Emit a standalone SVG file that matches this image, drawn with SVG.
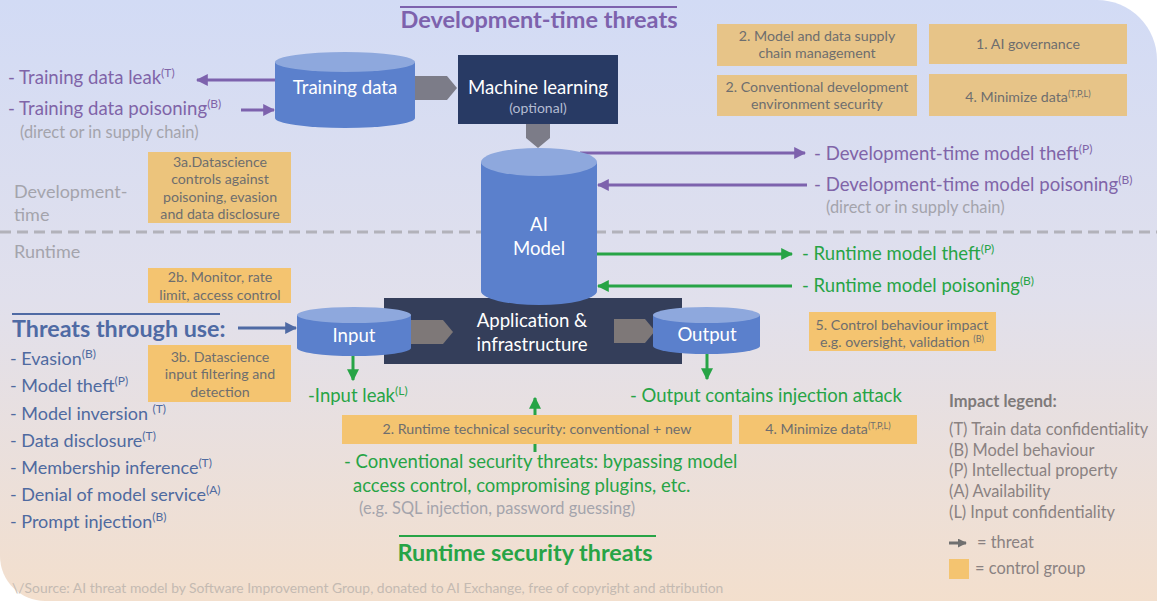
<svg xmlns="http://www.w3.org/2000/svg" width="1159" height="609" viewBox="0 0 1159 609">
<defs>
<linearGradient id="bg" x1="0" y1="0" x2="0" y2="1">
<stop offset="0" stop-color="#d2dbf5"/>
<stop offset="0.5" stop-color="#e1e0ec"/>
<stop offset="1" stop-color="#f3dfcd"/>
</linearGradient>
<marker id="mp" viewBox="0 0 10 10" refX="9" refY="5" markerWidth="4" markerHeight="4" orient="auto-start-reverse"><path d="M0,0 L10,5 L0,10 Z" fill="#7d62ad"/></marker>
<marker id="mg" viewBox="0 0 10 10" refX="9" refY="5" markerWidth="4" markerHeight="4" orient="auto-start-reverse"><path d="M0,0 L10,5 L0,10 Z" fill="#27a446"/></marker>
<marker id="mb" viewBox="0 0 10 10" refX="9" refY="5" markerWidth="4" markerHeight="4" orient="auto-start-reverse"><path d="M0,0 L10,5 L0,10 Z" fill="#4f6aa4"/></marker>
<marker id="mk" viewBox="0 0 10 10" refX="9" refY="5" markerWidth="3" markerHeight="3" orient="auto"><path d="M0,0 L10,5 L0,10 Z" fill="#707070"/></marker>
</defs>
<style>
text{font-family:Lato,"Open Sans","Liberation Sans",sans-serif}
.ctrl{fill:#f4c470}
.ctrlT{fill:#e7c488}
.ct{font-size:14.2px;fill:#6e6e6e;text-anchor:middle}
.pur{font-size:18.6px;fill:#8064a8}
.grn{font-size:18.5px;fill:#27a446}
.blu{font-size:18px;fill:#4f6aa0}
.gry{font-size:16.4px;fill:#a4a4ac}
.wh{fill:#ffffff;text-anchor:middle;font-size:18.6px}
.cylb{fill:#5b80cc}
.cylt{fill:#8ea8dd}
.garr{fill:#7c7c88}
.leg{font-size:16.4px;fill:#8a8282}
.lp{stroke:#7d62ad;stroke-width:3;fill:none}
.lg{stroke:#27a446;stroke-width:3;fill:none}
.lb{stroke:#4f6aa4;stroke-width:3;fill:none}
.sp{font-size:12px}
.sps{font-size:9px}
</style>
<path d="M0,0 H1097 A60,60 0 0 1 1157,60 V601 H45 A45,45 0 0 1 0,556 Z" fill="url(#bg)"/>
<line x1="0" y1="232" x2="1157" y2="232" stroke="#b2b2ba" stroke-width="3" stroke-dasharray="11,6"/>

<g id="titles">
<line x1="400" y1="7" x2="677" y2="7" stroke="#7d62ad" stroke-width="2"/>
<text x="539" y="28" text-anchor="middle" font-size="23.5" font-weight="bold" fill="#7d62ad">Development-time threats</text>
<line x1="399" y1="536" x2="656" y2="536" stroke="#27a446" stroke-width="2"/>
<text x="525" y="561" text-anchor="middle" font-size="23.4" font-weight="bold" fill="#27a446">Runtime security threats</text>
<text x="14" y="198" font-size="18" fill="#a4a4ac">Development-</text>
<text x="14" y="221" font-size="18" fill="#a4a4ac">time</text>
<text x="14" y="258" font-size="18" fill="#a4a4ac">Runtime</text>
<text x="12" y="593" font-size="13.9" fill="#c4bab2">\/Source: AI threat model by Software Improvement Group, donated to AI Exchange, free of copyright and attribution</text>
</g>

<g id="connectors">
<polygon class="garr" points="415,76 447,76 457,88 447,100 415,100"/>
<polygon class="garr" points="526,124 550,124 550,138 538,148 526,138"/>
<line class="lp" x1="275" y1="80" x2="197" y2="80" marker-end="url(#mp)"/>
<line class="lp" x1="241" y1="110" x2="274" y2="110" marker-end="url(#mp)"/>
<line class="lp" x1="580" y1="153" x2="805" y2="153" marker-end="url(#mp)"/>
<line class="lp" x1="807" y1="185" x2="598" y2="185" marker-end="url(#mp)"/>
<line class="lg" x1="597" y1="254" x2="792" y2="254" marker-end="url(#mg)"/>
<line class="lg" x1="792" y1="286" x2="598" y2="286" marker-end="url(#mg)"/>
<line class="lb" x1="238" y1="328" x2="296" y2="328" marker-end="url(#mb)"/>
<line class="lg" x1="353" y1="356" x2="353" y2="380" marker-end="url(#mg)"/>
<line class="lg" x1="707" y1="354" x2="707" y2="379" marker-end="url(#mg)"/>
<line class="lg" x1="535" y1="452" x2="535" y2="398" marker-end="url(#mg)"/>
</g>

<g id="training-data">
<path class="cylb" d="M275,62 V118 A70,10 0 0 0 415,118 V62 Z"/>
<ellipse class="cylt" cx="345" cy="62" rx="70" ry="10"/>
<text class="wh" x="345" y="94">Training data</text>
</g>

<g id="machine-learning">
<rect x="458" y="55" width="160" height="69" fill="#283a64"/>
<text class="wh" x="538" y="94">Machine learning</text>
<text x="538" y="113" text-anchor="middle" font-size="14" fill="#b4bcd2">(optional)</text>
</g>

<g id="application">
<rect x="384" y="298" width="298" height="66" fill="#343e5a"/>
<polygon fill="#7e7878" points="411,320 443,320 453,332 443,344 411,344"/>
<polygon fill="#7e7878" points="614,319 645,319 655,331 645,343 614,343"/>
<text class="wh" x="532" y="327">Application &amp;</text>
<text class="wh" x="532" y="351">infrastructure</text>
</g>

<g id="ai-model">
<path class="cylb" d="M481,162 V291 A58,14 0 0 0 597,291 V162 Z"/>
<ellipse class="cylt" cx="539" cy="162" rx="58" ry="14"/>
<text class="wh" x="539" y="231">AI</text>
<text class="wh" x="539" y="255">Model</text>
</g>

<g id="input">
<path class="cylb" d="M297,315 V348 A57,8 0 0 0 411,348 V315 Z"/>
<ellipse class="cylt" cx="354" cy="315" rx="57" ry="8"/>
<text class="wh" x="354" y="342">Input</text>
</g>

<g id="output">
<path class="cylb" d="M653,315 V346 A53.5,8 0 0 0 760,346 V315 Z"/>
<ellipse class="cylt" cx="706.5" cy="315" rx="53.5" ry="8"/>
<text class="wh" x="707" y="341">Output</text>
</g>

<g id="dev-threats">
<text class="pur" x="8" y="84">- Training data leak<tspan class="sp" dy="-7">(T)</tspan></text>
<text class="pur" x="8" y="115">- Training data poisoning<tspan class="sp" dy="-7">(B)</tspan></text>
<text class="gry" x="20" y="138">(direct or in supply chain)</text>
<text class="pur" x="814" y="160">- Development-time model theft<tspan class="sp" dy="-7">(P)</tspan></text>
<text class="pur" x="814" y="191">- Development-time model poisoning<tspan class="sp" dy="-7">(B)</tspan></text>
<text class="gry" x="826" y="213">(direct or in supply chain)</text>
</g>

<g id="runtime-threats">
<text class="grn" x="802" y="260">- Runtime model theft<tspan class="sp" dy="-7">(P)</tspan></text>
<text class="grn" x="802" y="292">- Runtime model poisoning<tspan class="sp" dy="-7">(B)</tspan></text>
<text class="grn" x="308" y="402">-Input leak<tspan class="sp" dy="-7">(L)</tspan></text>
<text class="grn" x="630" y="402">- Output contains injection attack</text>
<text class="grn" x="344" y="468">- Conventional security threats: bypassing model</text>
<text class="grn" x="353" y="492">access control, compromising plugins, etc.</text>
<text class="gry" x="359" y="514">(e.g. SQL injection, password guessing)</text>
</g>

<g id="threats-through-use">
<line x1="12" y1="314" x2="220" y2="314" stroke="#4f6aa4" stroke-width="2"/>
<text x="12" y="337" font-size="23.3" font-weight="bold" fill="#4f6aa4">Threats through use:</text>
<text class="blu" x="10" y="365">- Evasion<tspan class="sp" dy="-7">(B)</tspan></text>
<text class="blu" x="10" y="392">- Model theft<tspan class="sp" dy="-7">(P)</tspan></text>
<text class="blu" x="10" y="420">- Model inversion <tspan class="sp" dy="-7">(T)</tspan></text>
<text class="blu" x="10" y="447">- Data disclosure<tspan class="sp" dy="-7">(T)</tspan></text>
<text class="blu" x="10" y="474">- Membership inference<tspan class="sp" dy="-7">(T)</tspan></text>
<text class="blu" x="10" y="501">- Denial of model service<tspan class="sp" dy="-7">(A)</tspan></text>
<text class="blu" x="10" y="528">- Prompt injection<tspan class="sp" dy="-7">(B)</tspan></text>
</g>

<g id="ctrl-supply-chain">
<rect class="ctrlT" x="717" y="24" width="200" height="42"/>
<text class="ct" x="817" y="41">2. Model and data supply</text>
<text class="ct" x="817" y="58">chain management</text>
</g>
<g id="ctrl-governance">
<rect class="ctrlT" x="929" y="24" width="198" height="40"/>
<text class="ct" x="1028" y="49">1. AI governance</text>
</g>
<g id="ctrl-dev-env">
<rect class="ctrlT" x="717" y="75" width="200" height="41"/>
<text class="ct" x="817" y="92">2. Conventional development</text>
<text class="ct" x="817" y="109">environment security</text>
</g>
<g id="ctrl-minimize-dev">
<rect class="ctrlT" x="929" y="74" width="198" height="42"/>
<text class="ct" x="1028" y="102">4. Minimize data<tspan class="sps" dy="-5">(T,P,L)</tspan></text>
</g>
<g id="ctrl-3a">
<rect class="ctrl" x="148" y="152" width="143" height="71" style="fill:#ecc47c"/>
<text class="ct" x="220" y="167">3a.Datascience</text>
<text class="ct" x="220" y="184">controls against</text>
<text class="ct" x="220" y="202">poisoning, evasion</text>
<text class="ct" x="220" y="219">and data disclosure</text>
</g>
<g id="ctrl-2b">
<rect class="ctrl" x="148" y="268" width="143" height="35"/>
<text class="ct" x="220" y="282">2b. Monitor, rate</text>
<text class="ct" x="220" y="300">limit, access control</text>
</g>
<g id="ctrl-3b">
<rect class="ctrl" x="148" y="345" width="143" height="57"/>
<text class="ct" x="220" y="362">3b. Datascience</text>
<text class="ct" x="220" y="379">input filtering and</text>
<text class="ct" x="220" y="397">detection</text>
</g>
<g id="ctrl-5">
<rect class="ctrl" x="809" y="312" width="187" height="39"/>
<text class="ct" x="902" y="330">5. Control behaviour impact</text>
<text class="ct" x="902" y="347">e.g. oversight, validation <tspan class="sps" dy="-5">(B)</tspan></text>
</g>
<g id="ctrl-runtime-tech">
<rect class="ctrl" x="342" y="415" width="390" height="29"/>
<text class="ct" x="537" y="434">2. Runtime technical security: conventional +  new</text>
</g>
<g id="ctrl-minimize-rt">
<rect class="ctrl" x="739" y="415" width="178" height="29"/>
<text class="ct" x="828" y="434">4. Minimize data<tspan class="sps" dy="-5">(T,P,L)</tspan></text>
</g>

<g id="legend">
<text x="949" y="407" font-size="16.5" font-weight="bold" fill="#7e7a7a">Impact legend:</text>
<text class="leg" x="949" y="435">(T) Train data confidentiality</text>
<text class="leg" x="949" y="456">(B) Model behaviour</text>
<text class="leg" x="949" y="476">(P) Intellectual property</text>
<text class="leg" x="949" y="497">(A) Availability</text>
<text class="leg" x="949" y="518">(L) Input confidentiality</text>
<line x1="949" y1="543" x2="966" y2="543" stroke="#707070" stroke-width="3" marker-end="url(#mk)"/>
<text class="leg" x="977" y="548" fill="#9a9494">= threat</text>
<rect class="ctrl" x="949" y="559" width="20" height="20"/>
<text class="leg" x="975" y="574" fill="#9a9494">= control group</text>
</g>
</svg>
